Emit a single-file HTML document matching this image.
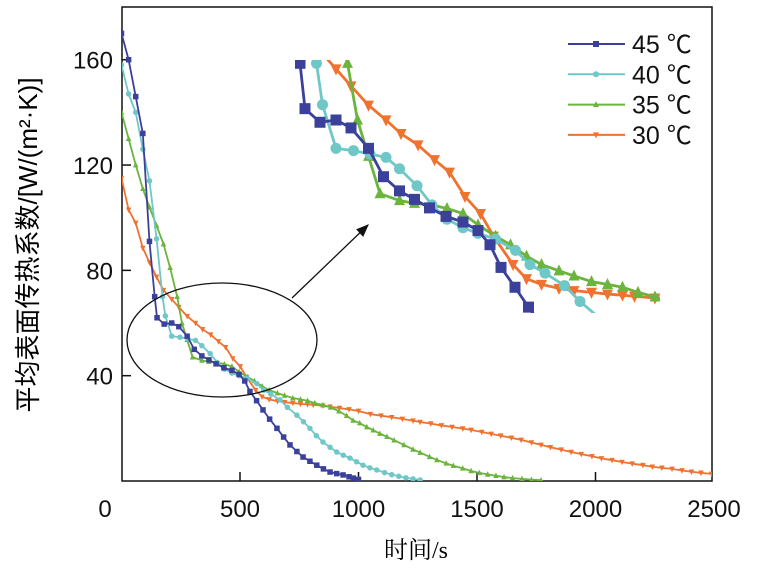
<!DOCTYPE html>
<html><head><meta charset="utf-8">
<style>
body{margin:0;background:#fff;}
svg{display:block;}
text{font-family:"Liberation Sans",sans-serif;}
</style></head>
<body>
<svg id="chart" width="757" height="568" viewBox="0 0 757 568" xmlns="http://www.w3.org/2000/svg">
<defs><clipPath id="plotclip"><rect x="122" y="7" width="590" height="474"/></clipPath>
<clipPath id="insetclip"><rect x="295" y="60" width="365" height="253"/></clipPath>
<marker id="ah" markerWidth="10" markerHeight="8" refX="9" refY="4" orient="auto"><path d="M0,0 L10,4 L0,8 z" fill="#111"/></marker></defs>
<rect x="122" y="7" width="590" height="474" fill="none" stroke="#111" stroke-width="1.5"/>
<g id="xaxis"></g>
<g id="yaxis"></g>
<g id="series" clip-path="url(#plotclip)"></g>
<g id="inset" clip-path="url(#insetclip)"></g>
<ellipse cx="222" cy="340" rx="95" ry="57" fill="none" stroke="#111" stroke-width="1.3"/>
<line x1="292" y1="298" x2="368" y2="225" stroke="#111" stroke-width="1.3" marker-end="url(#ah)"/>
<g id="legend"></g>
<text x="416" y="558" font-size="24" text-anchor="middle" style='font-family:"Liberation Serif","Noto Serif CJK SC",serif'>时间/s</text>
<text transform="translate(37,245) rotate(-90)" font-size="26" text-anchor="middle" style='font-family:"Liberation Sans","Noto Sans CJK SC",sans-serif'>平均表面传热系数/[W/(m²·K)]</text>
</svg>
<script>
const xTicks=[0,500,1000,1500,2000,2500];
const yTicks=[40,80,120,160];
const seriesNames=["45 ℃","40 ℃","35 ℃","30 ℃"];
const t45=[0,30,60,90,118,140,150,180,212,242,277,307,339,369,399,432,466,496,520,542,570,597,625,656,684,711,740,766,795,824,852,880,908,935,960,978,1000];
const v45=[170,160,146,132,91,70,62,59.6,60,58.6,55,50,47.5,46,44.5,43,42,40.5,38,34,30.5,27,23.5,20,16.7,13.7,11.2,9.1,7.5,6,4.6,3.4,2.8,2.3,1.6,1.1,0.6];
const t40=[0,30,60,90,118,148,173,185,212,247,280,312,339,374,404,434,466,496,531,571,600,630,669,700,740,768,795,822,850,880,908,936,964,992,1019,1048,1077,1110,1140,1170,1200,1230,1260];
const v40=[158,147,140,126,114,92,70,62.7,55,54.6,54,53.4,51.4,48.4,45,42.5,41,40,39,37,34.5,33,30.8,28,25,22.5,20,17.2,14.8,12.8,11,9.8,8.7,7.3,6,5,4.2,3.2,2.4,1.8,1.2,0.8,0.4];
const t35=[0,30,60,90,118,148,177,205,235,255,277,300,339,369,404,434,466,496,531,561,593,623,658,688,723,755,785,816,850,882,917,950,977,1005,1035,1062,1090,1120,1150,1192,1230,1260,1300,1331,1370,1400,1440,1475,1510,1545,1580,1614,1650,1690,1730,1770];
const v35=[140,130,120,111,104,97,90,81,70,60,53.6,47,45.8,45.3,45,44.4,43.5,41.5,39.5,38,36,34.5,33.4,32.5,31.5,31,30.5,29.6,28.8,28,26.5,24.8,23,22,20.5,19.3,18,16.8,15.5,13.7,12,10.8,9.2,8,6.7,5.8,4.8,3.8,3.1,2.5,2,1.5,1.1,0.8,0.5,0.3];
const t30=[0,30,60,90,118,148,177,212,242,277,312,342,376,409,439,470,501,527,566,593,623,658,688,723,755,785,809,850,880,920,960,1000,1050,1095,1140,1185,1230,1260,1305,1350,1395,1440,1475,1520,1560,1600,1645,1686,1730,1770,1810,1855,1897,1940,1985,2025,2070,2112,2155,2200,2240,2280,2323,2365,2405,2445,2490];
const v30=[115,103,98,88.5,83,77.5,72.5,69,66,62.6,60,57.6,55.6,53,50.8,46.5,43.5,39.5,34.5,32,31,30.3,29.9,29.6,29.3,29.1,28.9,28.6,28.2,27.7,27.2,26.6,25.4,24.8,24.2,23.6,22.9,22.4,21.8,21.1,20.5,19.9,19.4,18.6,17.9,17.2,16.4,15.6,14.6,13.7,12.8,11.9,11,10.2,9.4,8.6,7.9,7.2,6.6,6,5.4,5,4.6,4,3.5,3.1,2.7];

const colors=["#3b409a","#6fc7c8","#6bb43d","#f0722f"];
const shapes=["square","circle","tri-up","tri-down"];
const allT=[t45,t40,t35,t30], allV=[v45,v40,v35,v30];
const NS="http://www.w3.org/2000/svg";
const X=t=>121.5+t*0.237;
const Y=v=>481-v*2.633;
const IX=t=>305+(t-150)*0.5;
const IY=v=>120+(60-v)*5.67;
function mk(tag,attrs,parent){const e=document.createElementNS(NS,tag);for(const k in attrs)e.setAttribute(k,attrs[k]);parent.appendChild(e);return e;}
function marker(shape,x,y,s,col,parent){
  let e;
  if(shape==="square") e=mk("rect",{x:x-s/2,y:y-s/2,width:s,height:s,fill:col},parent);
  else if(shape==="circle") e=mk("circle",{cx:x,cy:y,r:s/2,fill:col},parent);
  else if(shape==="tri-up") e=mk("polygon",{points:`${x-s/2},${y+s/2.4} ${x+s/2},${y+s/2.4} ${x},${y-s/1.7}`,fill:col},parent);
  else e=mk("polygon",{points:`${x-s/2},${y-s/2.4} ${x+s/2},${y-s/2.4} ${x},${y+s/1.7}`,fill:col},parent);
  return e;
}
const xa=document.getElementById("xaxis"), ya=document.getElementById("yaxis");
xTicks.forEach((t,i)=>{
  const x=X(t);
  if(i>0&&i<xTicks.length-1){const l=mk("line",{x1:x,y1:481,x2:x,y2:472,stroke:"#111","stroke-width":1.5},xa);
  
  }
  const tx=mk("text",{x:i===0?105:x,y:517,"font-size":24,"text-anchor":"middle",fill:"#111"},xa);
  
  
  tx.textContent=t;
});
yTicks.forEach(v=>{
  const y=Y(v);
  const l=mk("line",{x1:122,y1:y,x2:131,y2:y,stroke:"#111","stroke-width":1.5},ya);
  
  
  const tx=mk("text",{x:113,y:y+9,"font-size":24,"text-anchor":"end",fill:"#111"},ya);
  
  
  tx.textContent=v;
});
const sg=document.getElementById("series"), ig=document.getElementById("inset");
for(let s=3;s>=0;s--){
  const T=allT[s],V=allV[s];
  const g=mk("g",{},sg);
  
  
  mk("polyline",{points:T.map((t,i)=>X(t)+","+Y(V[i])).join(" "),fill:"none",stroke:colors[s],"stroke-width":1.8},g);
  T.forEach((t,i)=>{const m=marker(shapes[s],X(t),Y(V[i]),5.5,colors[s],g);
    
    });
  const h=mk("g",{},ig);
  
  
  mk("polyline",{points:T.map((t,i)=>IX(t)+","+IY(V[i])).join(" "),fill:"none",stroke:colors[s],"stroke-width":2.8},h);
  T.forEach((t,i)=>{if(t<140||t>900)return;const m=marker(shapes[s],IX(t),IY(V[i]),11,colors[s],h);
    
    });
}
const lg=document.getElementById("legend");
seriesNames.forEach((n,i)=>{
  const y=44+i*30.3;
  const e=mk("g",{},lg);
  
  
  mk("line",{x1:568,y1:y,x2:625,y2:y,stroke:colors[i],"stroke-width":2},e);
  marker(shapes[i],596,y,6,colors[i],e);
  const tx=mk("text",{x:632,y:y+9,"font-size":25,fill:"#111"},e);
  tx.style.fontFamily='"Liberation Sans","Noto Sans CJK SC",sans-serif';
  tx.textContent=n;
});
</script>
</body></html>
